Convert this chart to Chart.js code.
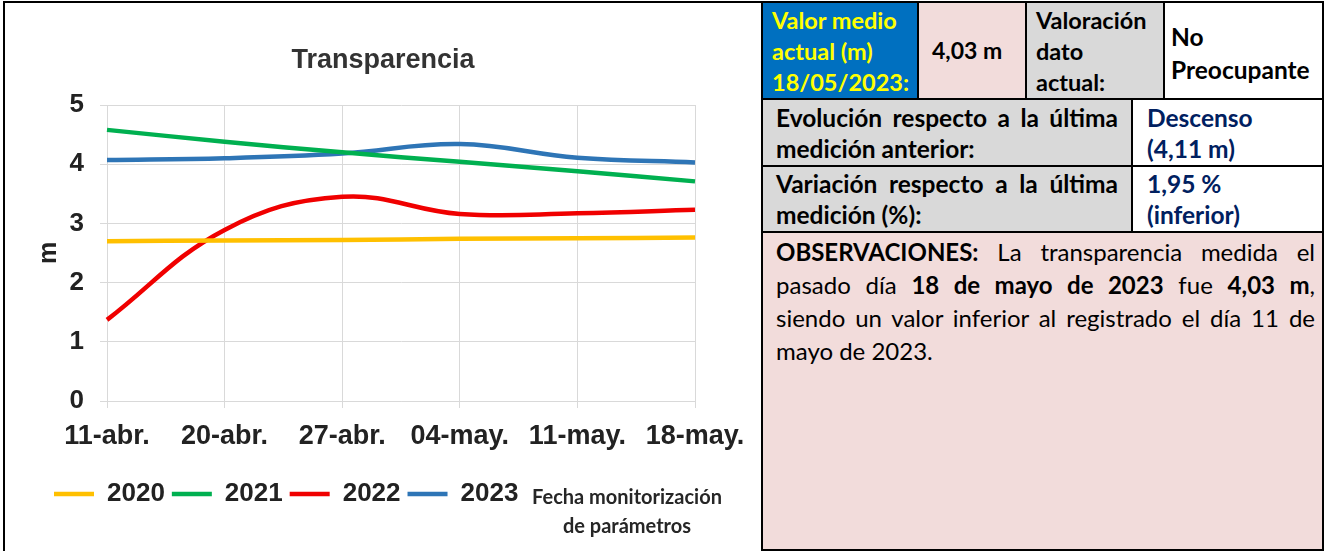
<!DOCTYPE html>
<html>
<head>
<meta charset="utf-8">
<script src="https://cdn.jsdelivr.net/npm/chart.js@4.4.0/dist/chart.umd.min.js"></script>
<style>
  html, body { margin: 0; padding: 0; background: #fff; }
  body { width: 1333px; height: 551px; position: relative; overflow: hidden; font-family: Lato, "Noto Sans", sans-serif; }
  #chartBox { position: absolute; left: 3px; top: 1px; width: 760px; height: 552px; border: 2px solid #000; box-sizing: border-box; }
  #chartWrap { position: absolute; left: 5px; top: 4px; width: 752px; height: 544px; }
  #ejeX { position: absolute; left: 507px; top: 482px; width: 240px; text-align: center;
          font: bold 20px Lato, sans-serif; line-height: 29px; color: #262626; }
  #tabla { position: absolute; left: 761px; top: 1px; width: 563px; height: 552px; background: #000; }
  .c { position: absolute; box-sizing: border-box; font-weight: bold; font-size: 24.5px; line-height: 31px; color: #000; white-space: nowrap; }
  .azul { background: #0070C0; color: #FFFF00; }
  .rosa { background: #F2DCDB; }
  .gris { background: #D9D9D9; }
  .blanco { background: #fff; }
  .navy { color: #002060; }
  .just { text-align: justify; text-align-last: justify; }
  .obs { font-weight: normal; font-size: 24px; line-height: 33px; }
</style>
</head>
<body>
<div id="chartBox"></div>
<div id="chartWrap"><canvas id="grafico" width="752" height="544"></canvas></div>
<div id="ejeX">Fecha monitorización<br>de parámetros</div>

<div id="tabla">
  <div class="c azul" style="left:2px;top:2px;width:154px;height:95px;padding:2px 0 0 9px;font-size:23.5px;">Valor medio<br>actual (m)<br>18/05/2023:</div>
  <div class="c rosa" style="left:158px;top:2px;width:106px;height:95px;padding:32px 0 0 13px;font-size:23px;">4,03 m</div>
  <div class="c gris" style="left:266px;top:2px;width:136px;height:95px;padding:2px 0 0 9px;font-size:23.5px;">Valoración<br>dato<br>actual:</div>
  <div class="c blanco" style="left:404px;top:2px;width:157px;height:95px;padding:17px 0 0 6px;line-height:33px;">No<br>Preocupante</div>

  <div class="c gris" style="left:2px;top:99px;width:368px;height:65px;padding:2px 13px 0 13px;"><div class="just">Evolución respecto a la última</div><div>medición anterior:</div></div>
  <div class="c blanco navy" style="left:372px;top:99px;width:189px;height:65px;padding:2px 0 0 14px;">Descenso<br>(4,11 m)</div>

  <div class="c gris" style="left:2px;top:166px;width:368px;height:64px;padding:1px 13px 0 13px;"><div class="just">Variación respecto a la última</div><div>medición (%):</div></div>
  <div class="c blanco navy" style="left:372px;top:166px;width:189px;height:64px;padding:1px 0 0 14px;">1,95 %<br>(inferior)</div>

  <div class="c rosa obs" style="left:2px;top:232px;width:559px;height:316px;padding:2px 7px 0 13px;">
    <div class="just"><b>OBSERVACIONES:</b> La transparencia medida el</div>
    <div class="just">pasado día <b>18 de mayo de 2023</b> fue <b>4,03 m</b>,</div>
    <div class="just">siendo un valor inferior al registrado el día 11 de</div>
    <div>mayo de 2023.</div>
  </div>
</div>

<script>
// fechas de muestreo y transparencia (m) por campaña
const fechas = ["11-abr.", "20-abr.", "27-abr.", "04-may.", "11-may.", "18-may."];
const serie2020 = [2.70, 2.71, 2.72, 2.74, 2.75, 2.76];
const serie2021 = [4.58, 4.38, 4.20, 4.04, 3.88, 3.71];
const serie2022 = [1.37, 2.89, 3.45, 3.16, 3.17, 3.23];
const serie2023 = [4.07, 4.10, 4.18, 4.34, 4.11, 4.03];
const anios = ["2020", "2021", "2022", "2023"];
const colores = ["#FFC000", "#00B050", "#F00000", "#2E75B6"];

const fuente = "'Liberation Sans', Arial, sans-serif";
const gris = "#D9D9D9";

const series = [serie2020, serie2021, serie2022, serie2023];

new Chart(document.getElementById("grafico"), {

    type: "line",

    data: {
        labels: fechas,
        datasets: series.map((valores, i) => ({
            label: anios[i],
            data: valores,
            borderColor: colores[i],
            backgroundColor: colores[i],
            borderWidth: 4.5,
            tension: 0.4,
            pointRadius: 0,
            fill: false
        }))
    },

    options: {
        responsive: false,
        animation: false,
        events: [],
        layout: {
            padding: { left: 42, right: 38, top: 0, bottom: 31 }
        },
        scales: {
            x: {
                offset: false,
                grid: { color: gris, tickLength: 7 },
                border: { color: gris },
                ticks: {
                    color: "#222",
                    padding: 12,
                    maxRotation: 0,
                    autoSkip: false,
                    font: { family: fuente, size: 27, weight: "bold" }
                },
                afterFit(scale) { scale.height = 73; }
            },
            y: {
                min: 0,
                max: 5,
                grid: { color: gris, tickLength: 7 },
                border: { color: gris },
                ticks: {
                    stepSize: 1,
                    color: "#222",
                    padding: 16,
                    font: { family: fuente, size: 26, weight: "bold" }
                },
                title: {
                    display: true,
                    text: "m",
                    color: "#222",
                    padding: { top: -13, bottom: 0 },
                    font: { family: fuente, size: 25, weight: "bold" }
                },
                afterFit(scale) { scale.width = 60; }
            },
            // eje vacío a la derecha, solo para reservar el hueco
            derecha: {
                type: "linear",
                position: "right",
                grid: { display: false },
                border: { display: false },
                ticks: { display: false },
                afterFit(scale) { scale.width = 24; }
            }
        },
        plugins: {
            title: {
                display: true,
                text: "Transparencia",
                color: "#333",
                padding: { top: 40, bottom: 28.6 },
                font: { family: fuente, size: 27, weight: "bold" }
            },
            legend: {
                position: "bottom",
                align: "start",
                labels: {
                    usePointStyle: true,
                    pointStyle: "line",
                    pointStyleWidth: 40,
                    padding: 7,
                    color: "#222",
                    font: { family: fuente, size: 26, weight: "bold" }
                }
            },
            tooltip: { enabled: false }
        }
    }

});
</script>
</body>
</html>
